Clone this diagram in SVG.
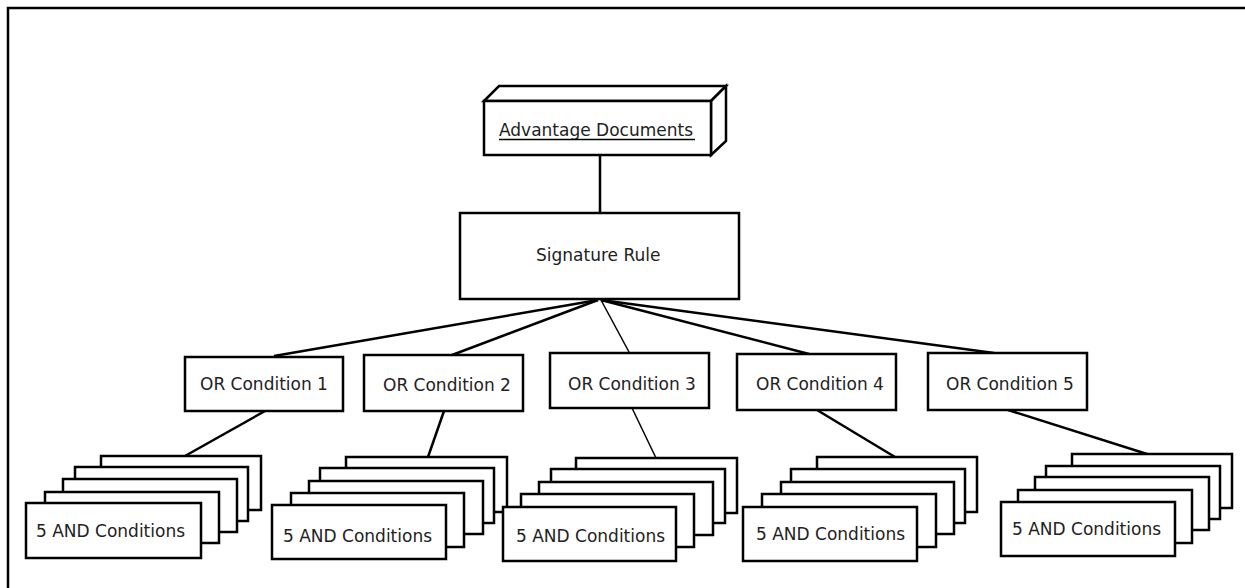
<svg xmlns="http://www.w3.org/2000/svg" width="1245" height="588" viewBox="0 0 1245 588">
<style>
.b{fill:#fff;stroke:#000;stroke-width:2.5}
.t{font-family:"DejaVu Sans",Verdana,sans-serif;font-size:17px;fill:#222}
.c{stroke:#000;stroke-width:2.5;fill:none}
</style>
<rect width="1245" height="588" fill="#fff"/>
<path d="M8,600 V8 H1250" fill="none" stroke="#000" stroke-width="2.5"/>
<g id="connectors">
<line class="c" x1="600" y1="155" x2="600" y2="213"/>
<line class="c" x1="598" y1="300" x2="274" y2="356"/>
<line class="c" x1="598" y1="300" x2="452" y2="355"/>
<line class="c" x1="601" y1="300" x2="629" y2="352" style="stroke-width:1.5"/>
<line class="c" x1="601" y1="300" x2="809" y2="354"/>
<line class="c" x1="601" y1="300" x2="994" y2="353"/>
<line class="c" x1="265" y1="411" x2="185" y2="456"/>
<line class="c" x1="444" y1="411" x2="428" y2="457"/>
<line class="c" x1="632" y1="408" x2="656" y2="458" style="stroke-width:1.5"/>
<line class="c" x1="817" y1="410" x2="895" y2="457"/>
<line class="c" x1="1008" y1="410" x2="1147" y2="454"/>
</g>
<g id="advantage-documents">
<polygon class="b" points="484,101 499,86 726,86 711,101"/>
<polygon class="b" points="711,101 726,86 726,141 711,155"/>
<rect class="b" x="484" y="101" width="227" height="54"/>
<text class="t" x="499" y="135.5">Advantage Documents</text>
<line x1="499" y1="139.5" x2="695" y2="139.5" stroke="#000" stroke-width="1.3"/>
</g>
<g id="signature-rule">
<rect class="b" x="460" y="213" width="279" height="86"/>
<text class="t" x="536" y="261">Signature Rule</text>
</g>
<g id="or-condition-1">
<rect class="b" x="185" y="357" width="158" height="54"/>
<text class="t" x="200" y="389.5">OR Condition 1</text>
</g>
<g id="or-condition-2">
<rect class="b" x="364" y="355" width="159" height="56"/>
<text class="t" x="383" y="390.5">OR Condition 2</text>
</g>
<g id="or-condition-3">
<rect class="b" x="550" y="353" width="159" height="55"/>
<text class="t" x="568" y="389.5">OR Condition 3</text>
</g>
<g id="or-condition-4">
<rect class="b" x="737" y="354" width="159" height="56"/>
<text class="t" x="756" y="389.5">OR Condition 4</text>
</g>
<g id="or-condition-5">
<rect class="b" x="928" y="353" width="159" height="57"/>
<text class="t" x="946" y="389.5">OR Condition 5</text>
</g>
<g id="and-stack-1">
<rect class="b" x="101" y="456" width="160" height="54"/>
<rect class="b" x="75" y="467" width="173" height="54"/>
<rect class="b" x="63" y="479" width="174" height="53"/>
<rect class="b" x="45" y="492" width="174" height="51"/>
<rect class="b" x="26" y="503" width="175" height="55"/>
<text class="t" x="36" y="536.5">5 AND Conditions</text>
</g>
<g id="and-stack-2">
<rect class="b" x="346" y="457" width="161" height="55"/>
<rect class="b" x="320" y="468" width="174" height="55"/>
<rect class="b" x="309" y="481" width="174" height="53"/>
<rect class="b" x="291" y="493" width="173" height="54"/>
<rect class="b" x="272" y="505" width="174" height="54"/>
<text class="t" x="283" y="541.5">5 AND Conditions</text>
</g>
<g id="and-stack-3">
<rect class="b" x="576" y="458" width="161" height="55"/>
<rect class="b" x="551" y="469" width="174" height="54"/>
<rect class="b" x="539" y="482" width="174" height="53"/>
<rect class="b" x="521" y="494" width="173" height="53"/>
<rect class="b" x="503" y="507" width="173" height="54"/>
<text class="t" x="516" y="541.5">5 AND Conditions</text>
</g>
<g id="and-stack-4">
<rect class="b" x="817" y="457" width="160" height="55"/>
<rect class="b" x="791" y="469" width="174" height="54"/>
<rect class="b" x="781" y="482" width="173" height="52"/>
<rect class="b" x="762" y="494" width="174" height="53"/>
<rect class="b" x="743" y="507" width="174" height="54"/>
<text class="t" x="756" y="540">5 AND Conditions</text>
</g>
<g id="and-stack-5">
<rect class="b" x="1072" y="454" width="160" height="54"/>
<rect class="b" x="1046" y="466" width="174" height="53"/>
<rect class="b" x="1035" y="477" width="174" height="53"/>
<rect class="b" x="1018" y="490" width="174" height="53"/>
<rect class="b" x="1001" y="502" width="174" height="54"/>
<text class="t" x="1012" y="535">5 AND Conditions</text>
</g>
</svg>
